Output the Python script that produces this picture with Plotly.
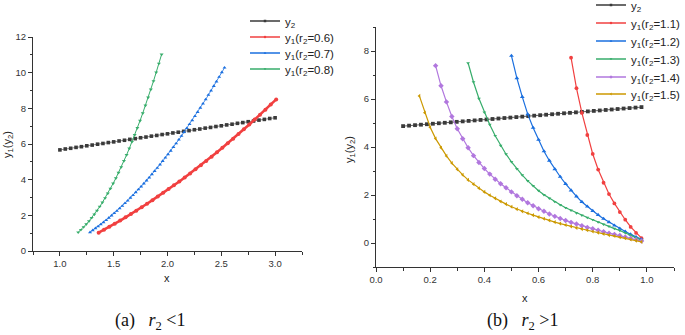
import plotly.graph_objects as go

# ---------------- data: panel (a) r2 < 1 ----------------
y2a_x = [1.00,1.05,1.10,1.15,1.20,1.25,1.30,1.35,1.40,1.45,1.50,1.55,1.60,1.65,1.70,1.75,1.80,1.85,1.90,1.95,
         2.00,2.05,2.10,2.15,2.20,2.25,2.30,2.35,2.40,2.45,2.50,2.55,2.60,2.65,2.70,2.75,2.80,2.85,2.90,2.95,3.00]
y2a_y = [5.67,5.72,5.76,5.81,5.85,5.90,5.94,5.99,6.03,6.08,6.12,6.17,6.21,6.26,6.30,6.35,6.39,6.44,6.48,6.53,
         6.57,6.62,6.66,6.71,6.75,6.80,6.84,6.89,6.93,6.98,7.02,7.07,7.11,7.16,7.20,7.25,7.29,7.34,7.38,7.43,7.47]

r06_x = [1.36,1.41,1.46,1.51,1.56,1.61,1.66,1.71,1.76,1.81,1.86,1.91,1.96,2.01,2.06,2.11,2.16,
         2.21,2.26,2.31,2.36,2.41,2.46,2.51,2.56,2.61,2.66,2.71,2.76,2.81,2.86,2.91,2.96,3.01]
r06_y = [1.03,1.19,1.36,1.53,1.71,1.89,2.07,2.26,2.45,2.65,2.85,3.05,3.26,3.47,3.68,3.90,4.12,
         4.35,4.58,4.81,5.05,5.29,5.54,5.79,6.04,6.30,6.56,6.83,7.09,7.37,7.64,7.92,8.21,8.50]

r07_x = [1.280,1.305,1.330,1.355,1.380,1.405,1.430,1.455,1.480,1.505,1.530,1.555,1.580,1.605,1.630,1.655,1.680,
         1.705,1.730,1.755,1.780,1.805,1.830,1.855,1.880,1.905,1.930,1.955,1.980,2.005,2.030,2.055,2.080,2.105,
         2.130,2.155,2.180,2.205,2.230,2.255,2.280,2.305,2.330,2.355,2.380,2.405,2.430,2.455,2.480,2.505,2.530]
r07_y = [1.05,1.16,1.27,1.38,1.49,1.61,1.73,1.86,1.99,2.12,2.25,2.39,2.53,2.68,2.82,2.98,3.13,
         3.29,3.45,3.61,3.78,3.95,4.12,4.30,4.48,4.66,4.85,5.04,5.23,5.42,5.62,5.83,6.03,6.24,
         6.45,6.67,6.89,7.11,7.33,7.56,7.79,8.03,8.26,8.50,8.75,8.99,9.25,9.50,9.76,10.02,10.28]

r08_x = [1.170,1.195,1.220,1.245,1.270,1.295,1.320,1.345,1.370,1.395,1.420,1.445,1.470,1.495,1.520,1.545,
         1.570,1.595,1.620,1.645,1.670,1.695,1.720,1.745,1.770,1.795,1.820,1.845,1.870,1.895,1.920,1.945]
r08_y = [1.05,1.19,1.34,1.50,1.67,1.86,2.05,2.26,2.49,2.72,2.97,3.23,3.50,3.79,4.08,4.39,
         4.71,5.05,5.39,5.75,6.12,6.51,6.90,7.31,7.73,8.16,8.61,9.06,9.53,10.02,10.51,11.02]

# ---------------- data: panel (b) r2 > 1 ----------------
y2b_x = [0.100,0.122,0.144,0.166,0.188,0.210,0.232,0.254,0.276,0.298,0.320,0.342,0.364,0.386,0.408,0.430,
         0.452,0.474,0.496,0.518,0.540,0.562,0.584,0.606,0.628,0.650,0.672,0.694,0.716,0.738,0.760,0.782,
         0.804,0.826,0.848,0.870,0.892,0.914,0.936,0.958,0.980]
y2b_y = [4.870,4.890,4.910,4.929,4.949,4.969,4.989,5.009,5.028,5.048,5.068,5.088,5.108,5.127,5.147,5.167,
         5.187,5.207,5.226,5.246,5.266,5.286,5.306,5.325,5.345,5.365,5.385,5.405,5.424,5.444,5.464,5.484,
         5.504,5.523,5.543,5.563,5.583,5.603,5.622,5.642,5.662]

r11_x = [0.72,0.74,0.76,0.78,0.80,0.82,0.84,0.86,0.88,0.90,0.92,0.94,0.96,0.98]
r11_y = [7.72,6.45,5.42,4.50,3.71,3.06,2.51,2.04,1.65,1.29,0.97,0.67,0.42,0.20]

r12_x = [0.50,0.52,0.54,0.56,0.58,0.60,0.62,0.64,0.66,0.68,0.70,0.72,0.74,0.76,0.78,0.80,0.82,0.84,
         0.86,0.88,0.90,0.92,0.94,0.96,0.98]
r12_y = [7.80,6.87,6.09,5.37,4.80,4.30,3.82,3.43,3.08,2.76,2.46,2.19,1.94,1.71,1.52,1.34,1.17,1.01,
         0.87,0.73,0.60,0.48,0.36,0.25,0.15]

r13_x = [0.34,0.36,0.38,0.40,0.42,0.44,0.46,0.48,0.50,0.52,0.54,0.56,0.58,0.60,0.62,0.64,0.66,0.68,
         0.70,0.72,0.74,0.76,0.78,0.80,0.82,0.84,0.86,0.88,0.90,0.92,0.94,0.96,0.98]
r13_y = [7.50,6.70,6.02,5.44,4.93,4.47,4.06,3.70,3.38,3.09,2.83,2.59,2.38,2.18,2.01,1.86,1.72,1.59,
         1.47,1.36,1.25,1.15,1.06,0.97,0.87,0.78,0.69,0.60,0.52,0.42,0.32,0.22,0.12]

r14_x = [0.22,0.24,0.26,0.28,0.30,0.32,0.34,0.36,0.38,0.40,0.42,0.44,0.46,0.48,0.50,0.52,0.54,0.56,0.58,
         0.60,0.62,0.64,0.66,0.68,0.70,0.72,0.74,0.76,0.78,0.80,0.82,0.84,0.86,0.88,0.90,0.92,0.94,0.96,0.98]
r14_y = [7.39,6.55,5.88,5.27,4.76,4.34,3.97,3.64,3.35,3.10,2.87,2.66,2.47,2.30,2.13,1.97,1.82,1.68,1.55,
         1.43,1.32,1.21,1.11,1.02,0.94,0.86,0.79,0.72,0.65,0.59,0.53,0.47,0.41,0.36,0.31,0.25,0.20,0.14,0.08]

r15_x = [0.16,0.18,0.20,0.22,0.24,0.26,0.28,0.30,0.32,0.34,0.36,0.38,0.40,0.42,0.44,0.46,0.48,0.50,0.52,
         0.54,0.56,0.58,0.60,0.62,0.64,0.66,0.68,0.70,0.72,0.74,0.76,0.78,0.80,0.82,0.84,0.86,0.88,0.90,
         0.92,0.94,0.96,0.98]
r15_y = [6.13,5.43,4.82,4.35,3.97,3.63,3.33,3.07,2.84,2.63,2.45,2.28,2.13,1.99,1.86,1.73,1.62,1.51,1.41,
         1.32,1.24,1.16,1.08,1.01,0.94,0.87,0.81,0.75,0.69,0.63,0.58,0.53,0.48,0.43,0.38,0.33,0.29,0.24,
         0.20,0.15,0.10,0.05]

# ---------------- styling ----------------
DARK, RED, BLUE, GREEN, PURPLE, GOLD = "#3a3a3a", "#F14040", "#1A6FDF", "#37AD6B", "#B177DE", "#CC9900"
SANS = "Liberation Sans, Arial, sans-serif"
SERIF = "Liberation Serif, Times New Roman, serif"
W, H = 685, 335

def px_x(p):
    return p / W

def px_y(p):
    return (H - p) / H

fig = go.Figure()
legend_layouts = {}
_count = [0]

def add(x, y, name, color, symbol, size, lw, xa, ya, leg_x, leg_y):
    _count[0] += 1
    key = "legend" if _count[0] == 1 else "legend%d" % _count[0]
    fig.add_trace(go.Scatter(
        x=x, y=y, name=name, mode="lines+markers", showlegend=False,
        line=dict(color=color, width=lw),
        marker=dict(symbol=symbol, size=size, color=color, line=dict(width=0)),
        xaxis=xa, yaxis=ya))
    fig.add_trace(go.Scatter(
        x=[None], y=[None], name=name, mode="lines+markers", showlegend=True,
        line=dict(color=color, width=1.3),
        marker=dict(symbol=symbol, size=2.5, color=color, line=dict(width=0)),
        xaxis=xa, yaxis=ya, legend=key))
    legend_layouts[key] = dict(x=px_x(leg_x), y=px_y(leg_y), xanchor="left", yanchor="middle",
                               bgcolor="rgba(0,0,0,0)", borderwidth=0, itemwidth=30,
                               font=dict(family=SANS, size=11.5, color="#222222"))

LA = 245   # left-panel legend x (px)
LB = 591   # right-panel legend x (px)
add(y2a_x, y2a_y, "y<sub>2</sub>", DARK, "square", 3.6, 0.6, "x", "y", LA, 21)
add(r06_x, r06_y, "y<sub>1</sub>(r<sub>2</sub>=0.6)", RED, "circle", 4, 2.6, "x", "y", LA, 37)
add(r07_x, r07_y, "y<sub>1</sub>(r<sub>2</sub>=0.7)", BLUE, "triangle-up", 3.5, 0.8, "x", "y", LA, 53)
add(r08_x, r08_y, "y<sub>1</sub>(r<sub>2</sub>=0.8)", GREEN, "triangle-down", 3.5, 1.0, "x", "y", LA, 69)

add(y2b_x, y2b_y, "y<sub>2</sub>", DARK, "square", 3.8, 0.8, "x2", "y2", LB, 5)
add(r11_x, r11_y, "y<sub>1</sub>(r<sub>2</sub>=1.1)", RED, "circle", 3.8, 1.2, "x2", "y2", LB, 23)
add(r12_x, r12_y, "y<sub>1</sub>(r<sub>2</sub>=1.2)", BLUE, "triangle-up", 4.2, 1.2, "x2", "y2", LB, 41)
add(r13_x, r13_y, "y<sub>1</sub>(r<sub>2</sub>=1.3)", GREEN, "triangle-down", 3.3, 1.2, "x2", "y2", LB, 59)
add(r14_x, r14_y, "y<sub>1</sub>(r<sub>2</sub>=1.4)", PURPLE, "diamond", 4.2, 1.2, "x2", "y2", LB, 77)
add(r15_x, r15_y, "y<sub>1</sub>(r<sub>2</sub>=1.5)", GOLD, "triangle-left", 3.6, 1.2, "x2", "y2", LB, 94)

axis_common = dict(showline=True, linecolor="#333333", linewidth=1, mirror=False, showgrid=False,
                   zeroline=False, ticks="outside", ticklen=4, tickwidth=1, tickcolor="#333333",
                   tickfont=dict(family=SANS, size=9.5, color="#333333"))

fig.update_layout(
    width=W, height=H, margin=dict(l=0, r=0, t=0, b=0, autoexpand=False),
    paper_bgcolor="white", plot_bgcolor="white",
    showlegend=True,
    xaxis=dict(domain=[px_x(33), px_x(302)], range=[0.75, 3.25], anchor="y", automargin=False,
               tickvals=[1.0, 1.5, 2.0, 2.5, 3.0], ticktext=["1.0", "1.5", "2.0", "2.5", "3.0"],
               minor=dict(tickvals=[0.75, 1.25, 1.75, 2.25, 2.75, 3.25], ticklen=2.5, ticks="outside",
                          tickcolor="#333333"),
               **axis_common),
    yaxis=dict(domain=[px_y(251), px_y(37)], range=[0, 12], anchor="x", automargin=False,
               tickvals=[0, 2, 4, 6, 8, 10, 12],
               minor=dict(tickvals=[1, 3, 5, 7, 9, 11], ticklen=2.5, ticks="outside", tickcolor="#333333"),
               **axis_common),
    xaxis2=dict(domain=[px_x(376), px_x(674)], range=[0, 1.1], anchor="y2", automargin=False,
                tickvals=[0, 0.2, 0.4, 0.6, 0.8, 1.0], ticktext=["0.0", "0.2", "0.4", "0.6", "0.8", "1.0"],
                minor=dict(tickvals=[0.1, 0.3, 0.5, 0.7, 0.9, 1.1], ticklen=2.5, ticks="outside",
                           tickcolor="#333333"),
                **axis_common),
    yaxis2=dict(domain=[px_y(267), px_y(27)], range=[-1, 9], anchor="x2", automargin=False,
                tickvals=[0, 2, 4, 6, 8],
                minor=dict(tickvals=[-1, 1, 3, 5, 7, 9], ticklen=2.5, ticks="outside", tickcolor="#333333"),
                **axis_common),
    **legend_layouts,
)

ann = [
    dict(text="x", x=px_x(167), y=px_y(278), font=dict(family=SANS, size=11, color="#222222")),
    dict(text="x", x=px_x(525), y=px_y(298), font=dict(family=SANS, size=11, color="#222222")),
    dict(text="y<sub>1</sub>(y<sub>2</sub>)", x=px_x(8), y=px_y(144), textangle=-90,
         font=dict(family=SANS, size=11, color="#222222")),
    dict(text="y<sub>1</sub>(y<sub>2</sub>)", x=px_x(350), y=px_y(150), textangle=-90,
         font=dict(family=SANS, size=11, color="#222222")),
    dict(text="(a)\u00a0\u00a0\u00a0<i>r</i><sub>2</sub> <1", x=px_x(150), y=px_y(321),
         font=dict(family=SERIF, size=18, color="#111111")),
    dict(text="(b)\u00a0\u00a0\u00a0<i>r</i><sub>2</sub> >1", x=px_x(522), y=px_y(321),
         font=dict(family=SERIF, size=18, color="#111111")),
]
for a in ann:
    fig.add_annotation(xref="paper", yref="paper", showarrow=False, xanchor="center", yanchor="middle", **a)

fig.write_html("out.html")
